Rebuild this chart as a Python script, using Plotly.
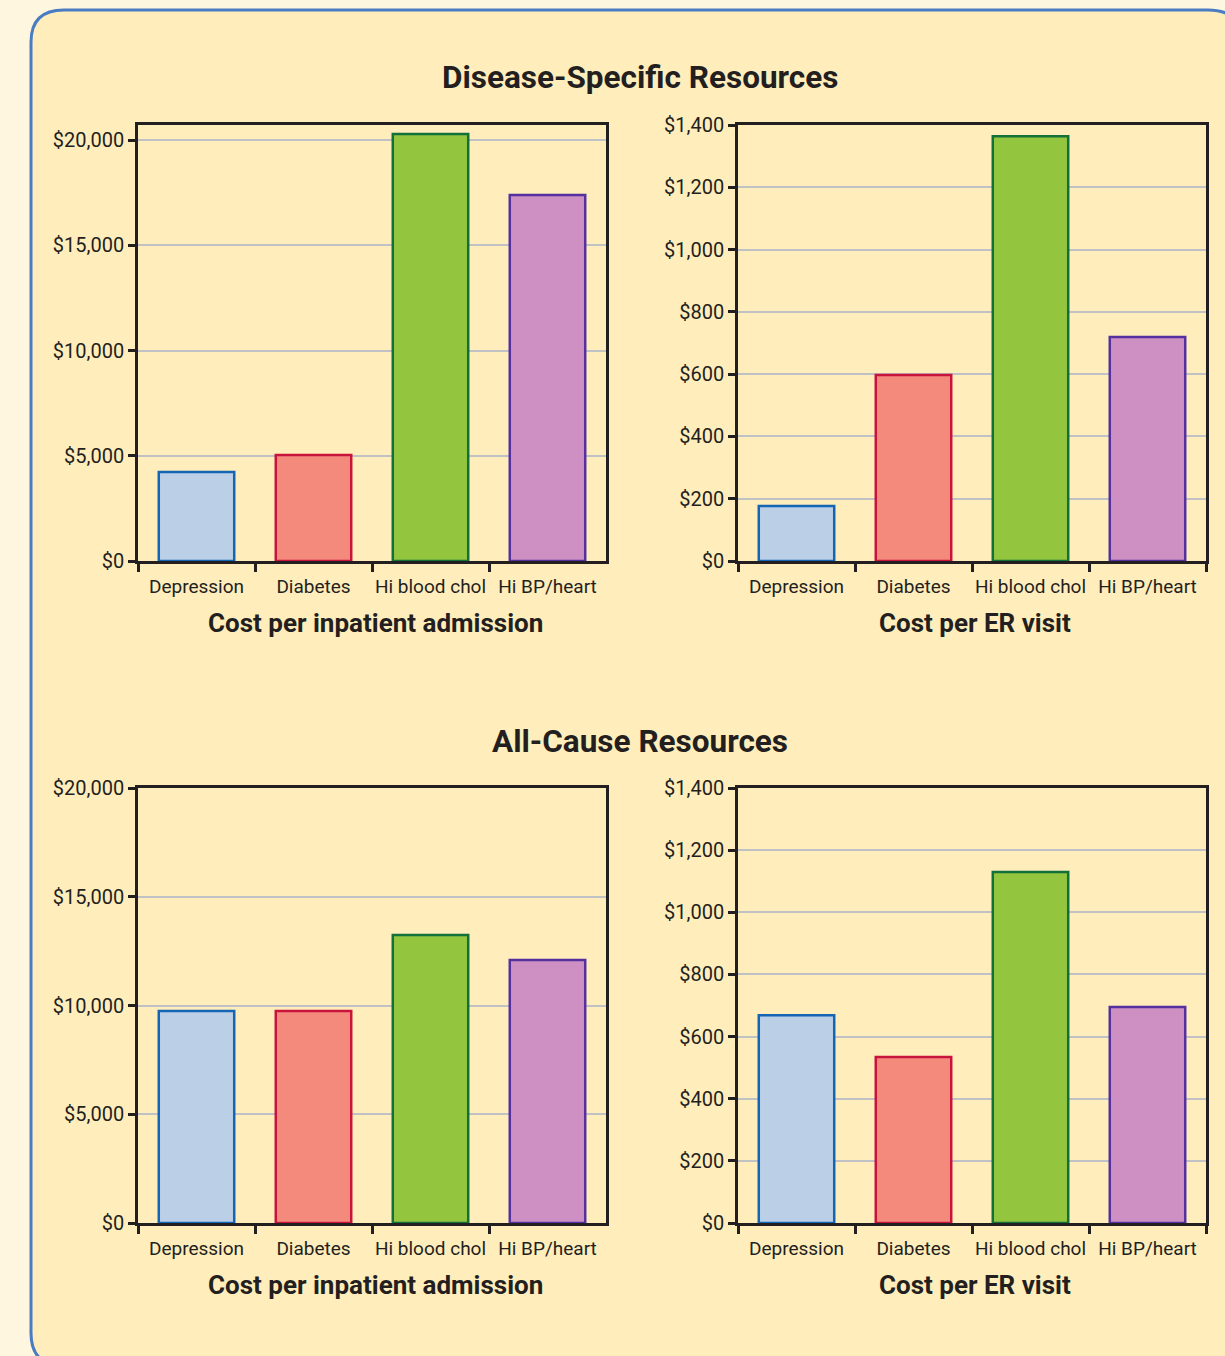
import plotly.graph_objects as go

categories = ["Depression", "Diabetes", "Hi blood chol", "Hi BP/heart"]

disease_inpatient = [4230, 5040, 20280, 17390]
disease_er = [177, 597, 1364, 719]
allcause_inpatient = [9750, 9750, 13240, 12090]
allcause_er = [669, 534, 1130, 695]

section_titles = ["Disease-Specific Resources", "All-Cause Resources"]
axis_titles = ["Cost per inpatient admission", "Cost per ER visit"]

inpatient_ticks = [0, 5000, 10000, 15000, 20000]
er_ticks = [0, 200, 400, 600, 800, 1000, 1200, 1400]

fill_colors = ["#BBCFE7", "#F48A7C", "#93C53E", "#CE90C2"]
line_colors = ["#1565B5", "#C8143C", "#12703A", "#5531A0"]

W, H = 1225, 1356
FONT = "Roboto, Liberation Sans, sans-serif"
DARK = "#231F20"


def px_x(x):
    return x / W


def px_y(y):
    return 1 - y / H


fig = go.Figure()

panels = [
    (disease_inpatient, "x", "y"),
    (disease_er, "x2", "y2"),
    (allcause_inpatient, "x3", "y3"),
    (allcause_er, "x4", "y4"),
]

for vals, xa, ya in panels:
    fig.add_trace(go.Bar(
        x=categories, y=vals, xaxis=xa, yaxis=ya, width=0.645,
        marker=dict(color=fill_colors, line=dict(color=line_colors, width=2.5)),
        showlegend=False, hoverinfo="x+y",
    ))

xdom_left = [px_x(138), px_x(606)]
xdom_right = [px_x(738), px_x(1206)]
ydom_top = [px_y(561), px_y(125)]
ydom_bot = [px_y(1223), px_y(788)]

layout_axes = {}
specs = [
    ("xaxis", "yaxis", "y", "x", xdom_left, ydom_top, [0, 20713], inpatient_ticks),
    ("xaxis2", "yaxis2", "y2", "x2", xdom_right, ydom_top, [0, 1400], er_ticks),
    ("xaxis3", "yaxis3", "y3", "x3", xdom_left, ydom_bot, [0, 20000], inpatient_ticks),
    ("xaxis4", "yaxis4", "y4", "x4", xdom_right, ydom_bot, [0, 1400], er_ticks),
]
for xk, yk, yanchor, xanchor, xd, yd, rng, ticks in specs:
    layout_axes[xk] = dict(
        domain=xd, anchor=yanchor, type="category",
        range=[-0.5, 3.5], showline=True, mirror=True, linecolor=DARK, linewidth=2.5,
        ticks="outside", tickson="boundaries", ticklen=8, tickwidth=2.5, tickcolor=DARK,
        tickangle=0, showgrid=False, automargin=False, ticklabelstandoff=6,
        tickfont=dict(family=FONT, size=19, color=DARK),
    )
    layout_axes[yk] = dict(
        domain=yd, anchor=xanchor, range=rng, tickvals=ticks,
        ticktext=["$" + format(t, ",") for t in ticks],
        showline=True, mirror=True, linecolor=DARK, linewidth=2.5,
        ticks="outside", ticklen=7, tickwidth=2.5, tickcolor=DARK,
        showgrid=True, gridcolor="#BFC1C4", gridwidth=1.5, zeroline=False,
        automargin=False,
        tickfont=dict(family=FONT, size=20, color=DARK),
    )

fig.update_layout(**layout_axes)


def P(x, y):
    return f"{px_x(x):.5f},{px_y(y):.5f}"


path = (
    f"M {P(31, 42)} L {P(31, 1333)} Q {P(31, 1366)} {P(64, 1366)} "
    f"L {P(1208, 1366)} Q {P(1242, 1366)} {P(1242, 1333)} "
    f"L {P(1242, 42)} Q {P(1242, 10)} {P(1208, 10)} "
    f"L {P(64, 10)} Q {P(31, 10)} {P(31, 42)} Z"
)

annotations = [
    dict(text="<b>" + section_titles[0] + "</b>", x=px_x(640), y=px_y(78)),
    dict(text="<b>" + section_titles[1] + "</b>", x=px_x(640), y=px_y(741)),
]
for a in annotations:
    a.update(xref="paper", yref="paper", showarrow=False, xanchor="center", yanchor="middle",
             font=dict(family=FONT, size=31.5, color=DARK))

for cx, cy, t in [(375, 623, axis_titles[0]), (975, 623, axis_titles[1]),
                  (375, 1285, axis_titles[0]), (975, 1285, axis_titles[1])]:
    annotations.append(dict(text="<b>" + t + "</b>", x=px_x(cx), y=px_y(cy), xref="paper", yref="paper",
                            showarrow=False, xanchor="center", yanchor="middle",
                            font=dict(family=FONT, size=26, color=DARK)))

fig.update_layout(
    width=W, height=H,
    margin=dict(l=0, r=0, t=0, b=0),
    paper_bgcolor="#FEF6DF",
    plot_bgcolor="rgba(0,0,0,0)",
    shapes=[dict(type="path", path=path, xref="paper", yref="paper",
                 fillcolor="#FFEDBB", line=dict(color="#4A7CC4", width=3), layer="below")],
    annotations=annotations,
    font=dict(family=FONT, color=DARK),
)

fig.write_html("out.html")
